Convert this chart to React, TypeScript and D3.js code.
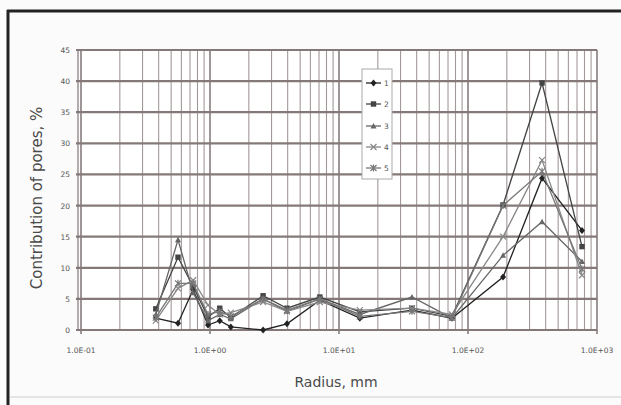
import React from "react";
import * as d3 from "d3";

// Pore radius positions shared by all samples
const radius = [0.38, 0.565, 0.74, 0.965, 1.19, 1.45, 2.58, 3.95, 7.1, 14.5, 36.8, 75, 187, 375, 765];

// Contribution of pores (%) per sample
const series1 = [1.9, 1.1, 6.5, 0.8, 1.5, 0.5, 0.0, 1.0, 4.8, 1.9, 3.2, 1.9, 8.5, 24.4, 16.0];
const series2 = [3.4, 11.7, 7.0, 2.1, 3.5, 2.0, 5.5, 3.5, 5.3, 2.9, 3.5, 2.2, 20.1, 39.7, 13.4];
const series3 = [2.5, 14.5, 6.0, 1.5, 2.5, 1.8, 5.0, 3.0, 5.0, 2.5, 5.3, 1.9, 12.0, 17.4, 11.0];
const series4 = [1.5, 6.7, 8.0, 4.0, 2.5, 2.8, 4.5, 3.0, 4.5, 3.2, 3.5, 2.5, 15.0, 27.3, 8.8];
const series5 = [2.0, 7.5, 7.5, 2.5, 3.0, 2.2, 5.0, 3.2, 5.0, 2.2, 3.0, 2.0, 20.0, 25.5, 9.8];

const seriesNames = ["1", "2", "3", "4", "5"];
const yTicks = [0, 5, 10, 15, 20, 25, 30, 35, 40, 45];
const xTickLabels = ["1.0E-01", "1.0E+00", "1.0E+01", "1.0E+02", "1.0E+03"];
const xDecades = [0.1, 1, 10, 100, 1000];

const allSeries = [series1, series2, series3, series4, series5];
const colors = ["#222", "#444", "#666", "#888", "#777"];
const markerKinds = ["diamond", "square", "triangle", "x", "star"];

function Marker({ kind, x, y, color }: { kind: string; x: number; y: number; color: string }) {
  const s = 3;
  if (kind === "diamond")
    return <path d={`M${x},${y - s - 0.5}L${x + s},${y}L${x},${y + s + 0.5}L${x - s},${y}Z`} fill={color} />;
  if (kind === "square")
    return <rect x={x - s + 0.3} y={y - s + 0.3} width={2 * s - 0.6} height={2 * s - 0.6} fill={color} />;
  if (kind === "triangle")
    return <path d={`M${x},${y - s}L${x + s},${y + s - 0.5}L${x - s},${y + s - 0.5}Z`} fill={color} />;
  if (kind === "x")
    return (
      <path d={`M${x - s},${y - s}L${x + s},${y + s}M${x - s},${y + s}L${x + s},${y - s}`} stroke={color} strokeWidth={1.2} />
    );
  return (
    <path
      d={`M${x - s},${y - s}L${x + s},${y + s}M${x - s},${y + s}L${x + s},${y - s}M${x},${y - s - 0.5}L${x},${y + s + 0.5}`}
      stroke={color}
      strokeWidth={1.2}
    />
  );
}

export default function App() {
  const W = 621;
  const H = 405;
  const left = 81;
  const right = 597;
  const top = 50;
  const bottom = 330;

  const x = d3.scaleLog().domain([0.1, 1000]).range([left, right]);
  const y = d3.scaleLinear().domain([0, 45]).range([bottom, top]);

  const minor: number[] = [];
  xDecades.slice(0, -1).forEach((d) => {
    for (let k = 2; k <= 9; k++) minor.push(d * k);
  });

  const line = d3
    .line<[number, number]>()
    .x((d) => x(d[0]))
    .y((d) => y(d[1]));

  const legendX = 362;
  const legendY = 69;
  const legendRowY = [83, 104, 126, 147, 168];
  const font = "'DejaVu Sans', Verdana, sans-serif";

  return (
    <svg
      width={W}
      height={H}
      style={{ position: "absolute", left: 0, top: 0, background: "#fbfbfb" }}
      fontFamily={font}
    >
      <rect x={0} y={0} width={W} height={H} fill="#fbfbfb" />
      {/* outer frame */}
      <line x1={7} y1={11} x2={W} y2={11} stroke="#222" strokeWidth={3} />
      <line x1={8} y1={10} x2={8} y2={H} stroke="#222" strokeWidth={3} />
      <line x1={10} y1={397} x2={W} y2={397} stroke="#ddd" strokeWidth={1.5} />

      <rect x={left} y={top} width={right - left} height={bottom - top} fill="#fff" />

      {/* minor vertical grid */}
      {minor.map((v) => (
        <line key={"m" + v} x1={x(v)} x2={x(v)} y1={top} y2={bottom} stroke="#a39999" strokeWidth={1.1} />
      ))}
      {/* decade vertical grid */}
      {xDecades.map((v) => (
        <line key={"d" + v} x1={x(v)} x2={x(v)} y1={top} y2={bottom + 4} stroke="#7f7474" strokeWidth={1.5} />
      ))}
      {/* horizontal grid */}
      {yTicks.map((t) => (
        <line key={"h" + t} x1={left - 5} x2={right} y1={y(t)} y2={y(t)} stroke="#857878" strokeWidth={2.2} />
      ))}
      <line x1={left - 3} x2={left - 3} y1={top} y2={bottom} stroke="#857878" strokeWidth={1.2} />

      {/* y tick labels */}
      {yTicks.map((t) => (
        <text key={"yl" + t} x={left - 11} y={y(t) + 3} fontSize={7.5} textAnchor="end" fill="#555">
          {t}
        </text>
      ))}
      {/* x tick labels */}
      {xDecades.map((v, i) => (
        <text key={"xl" + v} x={x(v)} y={353} fontSize={7.5} textAnchor="middle" fill="#555">
          {xTickLabels[i]}
        </text>
      ))}

      {/* series */}
      {allSeries.map((s, i) => {
        const pts = s.map((v, j) => [radius[j], v] as [number, number]);
        return (
          <g key={"s" + i}>
            <path d={line(pts) || ""} fill="none" stroke={colors[i]} strokeWidth={1.3} />
            {pts.map((p, j) => (
              <Marker key={j} kind={markerKinds[i]} x={x(p[0])} y={y(p[1])} color={colors[i]} />
            ))}
          </g>
        );
      })}

      {/* legend */}
      <rect x={legendX} y={legendY} width={30} height={110} fill="#fff" stroke="#aaa" strokeWidth={1} />
      {seriesNames.map((n, i) => (
        <g key={"lg" + n}>
          <line x1={legendX + 4} x2={legendX + 19} y1={legendRowY[i]} y2={legendRowY[i]} stroke={colors[i]} strokeWidth={1.3} />
          <Marker kind={markerKinds[i]} x={legendX + 11.5} y={legendRowY[i]} color={colors[i]} />
          <text x={legendX + 22} y={legendRowY[i] + 3} fontSize={7.5} fill="#555">
            {n}
          </text>
        </g>
      ))}

      {/* axis titles */}
      <text
        transform={`translate(42, ${(top + bottom) / 2 + 8}) rotate(-90)`}
        textAnchor="middle"
        fontSize={15}
        fill="#4a4a4a"
      >
        Contribution of pores, %
      </text>
      <text x={336} y={387} textAnchor="middle" fontSize={14} fill="#4a4a4a">
        Radius, mm
      </text>
    </svg>
  );
}
